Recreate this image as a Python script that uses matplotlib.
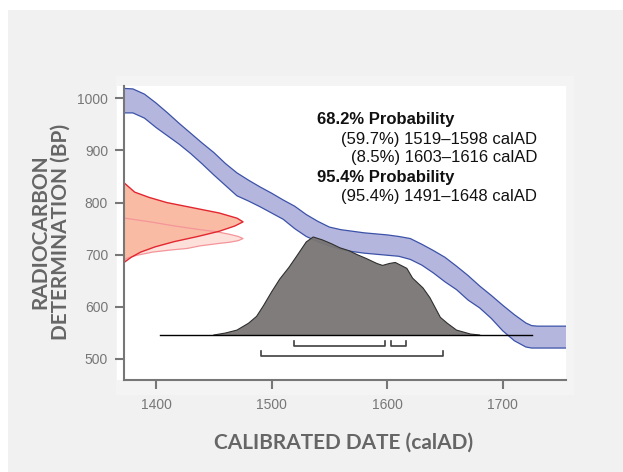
import matplotlib
matplotlib.use('Agg')
import matplotlib.pyplot as plt
from matplotlib.patches import Rectangle
import numpy as np

# ---------------- data ----------------
cal_years = [1372, 1380, 1390, 1400, 1410, 1420, 1430, 1440, 1450, 1460, 1470, 1480,
             1490, 1500, 1510, 1520, 1530, 1540, 1550, 1560, 1570, 1580, 1590, 1600,
             1610, 1620, 1630, 1640, 1650, 1660, 1670, 1680, 1690, 1700, 1710, 1720,
             1725, 1730, 1756]
cal_upper = [1019, 1018, 1008, 991, 972, 952, 933, 914, 896, 875, 857, 843,
             830, 818, 805, 793, 777, 764, 753, 748, 745, 742, 740, 738,
             735, 731, 720, 708, 695, 678, 660, 640, 622, 603, 585, 569,
             564, 563, 563]
cal_lower = [972, 972, 962, 944, 928, 912, 894, 874, 853, 833, 813, 803,
             792, 780, 768, 750, 735, 725, 717, 710, 706, 703, 701, 699,
             697, 691, 680, 665, 648, 633, 613, 598, 578, 554, 535, 523,
             521, 521, 521]

dist_years = [1450, 1460, 1470, 1480, 1487, 1493, 1500, 1507, 1515, 1522, 1530, 1536,
              1544, 1552, 1559, 1567, 1574, 1582, 1591, 1596, 1602, 1607, 1612, 1617,
              1622, 1631, 1637, 1646, 1652, 1660, 1672, 1680]
dist_prob = [0.0, 0.02, 0.05, 0.12, 0.19, 0.30, 0.44, 0.57, 0.69, 0.81, 0.95, 1.0,
             0.97, 0.93, 0.89, 0.86, 0.82, 0.78, 0.73, 0.71, 0.73, 0.74, 0.71, 0.68,
             0.58, 0.48, 0.38, 0.18, 0.12, 0.05, 0.01, 0.0]

red_bp = [838, 830, 820, 810, 800, 790, 780, 770, 763, 755, 745, 735, 725, 715, 705, 695, 685]
red_prob = [0.0, 0.04, 0.09, 0.21, 0.36, 0.58, 0.80, 0.95, 1.0, 0.93, 0.80, 0.62, 0.42,
            0.26, 0.14, 0.06, 0.0]

pink_bp = [770, 763, 755, 748, 744, 739, 735, 731, 727, 724, 722, 717, 712, 709, 705, 699, 694, 690]
pink_prob = [0.01, 0.22, 0.43, 0.64, 0.78, 0.89, 0.96, 1.0, 0.96, 0.89, 0.81, 0.64, 0.53,
             0.39, 0.24, 0.11, 0.03, 0.0]

ranges_68 = [(1519, 1598), (1603, 1616)]
ranges_95 = [(1491, 1648)]

text_lines = [("68.2% Probability", True),
              ("(59.7%) 1519\u20131598 calAD", False),
              ("(8.5%) 1603\u20131616 calAD", False),
              ("95.4% Probability", True),
              ("(95.4%) 1491\u20131648 calAD", False)]

xticks = [1400, 1500, 1600, 1700]
yticks = [500, 600, 700, 800, 900, 1000]

# ---------------- figure ----------------
W, H = 623, 472
fig = plt.figure(figsize=(W / 100, H / 100), dpi=100, facecolor='white')


def fx(px):
    return px / W


def fy(py):
    return 1 - py / H


fig.patches.append(Rectangle((fx(8), 0), 1 - fx(8), fy(10), transform=fig.transFigure,
                             facecolor='#f1f1f1', edgecolor='none', zorder=-3))
fig.patches.append(Rectangle((fx(116), fy(395)), fx(574) - fx(116), fy(76) - fy(395),
                             transform=fig.transFigure, facecolor='#f4f4f4',
                             edgecolor='none', zorder=-2))
fig.patches.append(Rectangle((fx(117), fy(380)), fx(125) - fx(117), fy(86) - fy(380),
                             transform=fig.transFigure, facecolor='white',
                             edgecolor='none', zorder=-1))

ax = fig.add_axes([fx(124), fy(380), fx(566) - fx(124), fy(86) - fy(380)])
ax.set_zorder(5)
ax.set_facecolor('white')
xmin, xmax = 1372.3, 1754.7
ax.set_xlim(xmin, xmax)
ax.set_ylim(459.7, 1023.6)

for s in ['top', 'right']:
    ax.spines[s].set_visible(False)
for s in ['left', 'bottom']:
    ax.spines[s].set_color('#777777')
    ax.spines[s].set_linewidth(1.5)

ax.set_xticks(xticks)
ax.set_yticks(yticks)
ax.tick_params(direction='out', length=6.5, width=1.5, color='#777777',
               labelcolor='#777777', labelsize=10)
ax.tick_params(axis='x', pad=6.5)
ax.tick_params(axis='y', pad=5)
for lab in ax.get_xticklabels() + ax.get_yticklabels():
    lab.set_family('Liberation Sans')

# calibration curve band
ax.fill_between(cal_years, cal_lower, cal_upper, facecolor='#b4b6de', edgecolor='none', zorder=2)
ax.plot(cal_years, cal_upper, color='#3c52a8', lw=0.9, zorder=2.2)
ax.plot(cal_years, cal_lower, color='#3c52a8', lw=0.9, zorder=2.2)

# measurement distributions on the y axis
red_w = 103.0
rp = np.array(red_prob)
pp = np.array(pink_prob)
ax.fill_betweenx(pink_bp, xmin, xmin + pp * red_w, facecolor='#fde0da', edgecolor='none', zorder=1.8)
ax.fill_betweenx(red_bp, xmin, xmin + rp * red_w, facecolor='#f9bba4', edgecolor='none', zorder=1.9)
ax.plot(xmin + pp * red_w, pink_bp, color='#f4959a', lw=0.9, zorder=2.0)
ax.plot(xmin + rp * red_w, red_bp, color='#e3262f', lw=1.0, zorder=2.1)

# calibrated distribution
base = 546
dh = 188
dp = np.array(dist_prob)
ax.fill_between(dist_years, base, base + dp * dh, facecolor='#797574', edgecolor='none',
                alpha=0.95, zorder=3)
ax.plot(dist_years, base + dp * dh, color='#2f2f2f', lw=0.8, zorder=3.1)
ax.plot([1403.5, 1725], [base, base], color='black', lw=1.0, zorder=4)

# ranges
for (a, b) in ranges_68:
    ax.plot([a, a, b, b], [535, 525, 525, 535], color='#404040', lw=1.2, zorder=4)
for (a, b) in ranges_95:
    ax.plot([a, a, b, b], [515, 506, 506, 515], color='#404040', lw=1.2, zorder=4)

# text block
baselines = [124.3, 144.3, 162.0, 181.7, 201.0]
for (txt, bold), yb in zip(text_lines, baselines):
    if bold:
        fig.text(fx(316.7), fy(yb), txt, ha='left', va='baseline', fontsize=12,
                 fontweight='bold', family='Liberation Sans', color='#111111', zorder=10)
    else:
        fig.text(fx(537), fy(yb), txt, ha='right', va='baseline', fontsize=12,
                 family='Liberation Sans', color='#111111', zorder=10)

# axis titles
lab_kw = dict(fontsize=15, fontweight='bold', family='Lato', color='#666666')
fig.text(fx(40), fy(232), 'RADIOCARBON', rotation=90, ha='center', va='center', **lab_kw)
fig.text(fx(61), fy(232), 'DETERMINATION (BP)', rotation=90, ha='center', va='center', **lab_kw)
fig.text(fx(344), fy(443), 'CALIBRATED DATE (calAD)', ha='center', va='center', **lab_kw)

fig.savefig('out.png', dpi=100, facecolor=fig.get_facecolor())
